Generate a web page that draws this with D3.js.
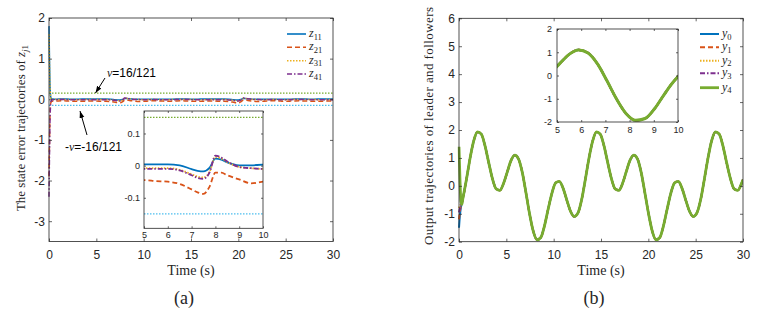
<!DOCTYPE html>
<html>
<head>
<meta charset="utf-8">
<script src="https://cdn.jsdelivr.net/npm/d3@7"></script>
<style>
body { margin: 0; background: #fff; }
svg { display: block; }
.tk text { font-family: "Liberation Sans", Arial, sans-serif; fill: #262626; }
.serif { font-family: "Liberation Serif", "Times New Roman", serif; fill: #262626; }
.sans { font-family: "Liberation Sans", Arial, sans-serif; fill: #000; }
</style>
</head>
<body>
<script>
// ---- panel (a): state errors z_j1 ----
var tA = [0, 0.05, 0.1, 0.15, 0.2, 0.3, 0.4,
    0.6, 0.8, 1, 1.5, 2, 2.5, 3, 3.5, 4, 4.5,
    5, 5.5, 6, 6.5, 7, 7.25, 7.5, 7.75, 8, 8.25, 8.5, 9, 9.5, 10,
    10.5, 11, 11.5, 12, 12.5, 13, 13.5, 14, 14.5, 15, 15.5, 16, 16.5, 17,
    17.5, 18, 18.5, 19, 19.5, 19.75, 20, 20.25, 20.5, 20.75, 21, 21.5, 22, 22.5,
    23, 23.5, 24, 24.5, 25, 25.5, 26, 26.5, 27, 27.5, 28, 28.5, 29, 29.5, 30];

var z11 = [1.8, 1.0, 0.4, 0.12, 0.04, 0.01, 0.004,
    0.002, 0.003, 0.004, 0.005, 0.004, 0.003, 0.003, 0.004, 0.004, 0.004,
    0.004, 0.004, 0.004, 0.001, -0.011, -0.016, -0.018, -0.007, 0.022, 0.019, 0.01, 0.001, 0.001, 0.003,
    0.003, 0.002, 0.0, -0.002, 0.0, 0.002, 0.004, 0.005, 0.004, 0.003, 0.003, 0.004, 0.004, 0.004,
    0.004, 0.004, 0.004, 0.001, -0.011, -0.016, -0.018, -0.007, 0.022, 0.019, 0.01, 0.001, 0.001, 0.003,
    0.003, 0.002, 0.0, -0.002, 0.0, 0.002, 0.004, 0.005, 0.004, 0.003, 0.003, 0.004, 0.004, 0.004, 0.004];

var z21 = [-1.9, -1.1, -0.45, -0.17, -0.08, -0.05, -0.046,
    -0.045, -0.042, -0.04, -0.038, -0.042, -0.047, -0.05, -0.048, -0.046, -0.045,
    -0.045, -0.048, -0.05, -0.057, -0.074, -0.083, -0.088, -0.066, -0.022, -0.022, -0.03, -0.043, -0.055, -0.05,
    -0.043, -0.038, -0.04, -0.045, -0.048, -0.045, -0.04, -0.038, -0.042, -0.047, -0.05, -0.048, -0.046, -0.045,
    -0.045, -0.048, -0.05, -0.057, -0.074, -0.083, -0.088, -0.066, -0.022, -0.022, -0.03, -0.043, -0.055, -0.05,
    -0.043, -0.038, -0.04, -0.045, -0.048, -0.045, -0.04, -0.038, -0.042, -0.047, -0.05, -0.048, -0.046, -0.045, -0.045];

var z31 = [1.6, 0.9, 0.35, 0.1, 0.02, -0.004, -0.008,
    -0.008, -0.007, -0.006, -0.006, -0.007, -0.008, -0.009, -0.009, -0.008, -0.008,
    -0.008, -0.008, -0.008, -0.013, -0.027, -0.034, -0.037, -0.02, 0.027, 0.022, 0.011, -0.004, -0.008, -0.01,
    -0.009, -0.007, -0.008, -0.01, -0.01, -0.008, -0.007, -0.006, -0.006, -0.007, -0.008, -0.009, -0.009, -0.008,
    -0.008, -0.008, -0.008, -0.013, -0.027, -0.034, -0.037, -0.02, 0.027, 0.022, 0.011, -0.004, -0.008, -0.01,
    -0.009, -0.007, -0.008, -0.01, -0.01, -0.008, -0.007, -0.006, -0.006, -0.007, -0.008, -0.009, -0.009, -0.008, -0.008];

var z41 = [-2.4, -1.4, -0.6, -0.2, -0.06, -0.018, -0.011,
    -0.01, -0.009, -0.008, -0.008, -0.009, -0.01, -0.011, -0.011, -0.01, -0.01,
    -0.01, -0.01, -0.01, -0.015, -0.03, -0.038, -0.041, -0.022, 0.031, 0.025, 0.013, -0.004, -0.008, -0.01,
    -0.01, -0.008, -0.009, -0.011, -0.012, -0.01, -0.008, -0.008, -0.008, -0.009, -0.01, -0.011, -0.011, -0.01,
    -0.01, -0.01, -0.01, -0.015, -0.03, -0.038, -0.041, -0.022, 0.031, 0.025, 0.013, -0.004, -0.008, -0.01,
    -0.01, -0.008, -0.009, -0.011, -0.012, -0.01, -0.008, -0.008, -0.008, -0.009, -0.01, -0.011, -0.011, -0.01, -0.01];

var bounds = [0.15, -0.15];
var zSubs = ["11", "21", "31", "41"];

// ---- panel (b): outputs of leader and followers ----
var tB = [0, 0.1, 0.2, 0.3,
    0.39, 0.79, 1.18, 1.57, 1.96, 2.36, 2.75, 3.14, 3.53, 3.93, 4.32, 4.71, 5.11, 5.50, 5.89, 6.28,
    6.68, 7.07, 7.46, 7.85, 8.25, 8.64, 9.03, 9.42, 9.82, 10.21, 10.60, 11.00, 11.39, 11.78, 12.17, 12.57,
    12.96, 13.35, 13.74, 14.14, 14.53, 14.92, 15.32, 15.71, 16.10, 16.49, 16.89, 17.28, 17.67, 18.06, 18.46, 18.85,
    19.24, 19.63, 20.03, 20.42, 20.81, 21.21, 21.60, 21.99, 22.38, 22.78, 23.17, 23.56, 23.95, 24.35, 24.74, 25.13,
    25.53, 25.92, 26.31, 26.70, 27.10, 27.49, 27.88, 28.27, 28.67, 29.06, 29.45, 29.85, 30];

// common trajectory after the transient (t >= 0.39)
var yTrack = [-0.49, 0.24, 1.01, 1.63, 1.93, 1.85, 1.43, 0.83, 0.26, -0.11, -0.16, 0.09, 0.51, 0.91, 1.10, 0.97,
    0.49, -0.24, -1.01, -1.63, -1.93, -1.85, -1.43, -0.83, -0.26, 0.11, 0.16, -0.09, -0.51, -0.91, -1.10, -0.97,
    -0.49, 0.24, 1.01, 1.63, 1.93, 1.85, 1.43, 0.83, 0.26, -0.11, -0.16, 0.09, 0.51, 0.91, 1.10, 0.97,
    0.49, -0.24, -1.01, -1.63, -1.93, -1.85, -1.43, -0.83, -0.26, 0.11, 0.16, -0.09, -0.51, -0.91, -1.10, -0.97,
    -0.49, 0.24, 1.01, 1.63, 1.93, 1.85, 1.43, 0.83, 0.26, -0.11, -0.16, 0.09, 0.22];

// first four samples (t = 0 .. 0.3) of each output
var y0Start = [-1.5, -1.05, -0.78, -0.62];
var y1Start = [-1.2, -0.9, -0.72, -0.62];
var y2Start = [-0.8, -0.72, -0.66, -0.62];
var y3Start = [-0.95, -0.8, -0.7, -0.62];
var y4Start = [1.4, 0.25, -0.55, -0.66];
var ySubs = ["0", "1", "2", "3", "4"];

var xTicks = [0, 5, 10, 15, 20, 25, 30];
var yTicksA = [-3, -2, -1, 0, 1, 2];
var yTicksB = [-2, -1, 0, 1, 2, 3, 4, 5, 6];
var insetXTicks = [5, 6, 7, 8, 9, 10];
var insetYTicksA = [-0.1, 0, 0.1];
var insetYTicksB = [-2, -1, 0, 1, 2];

// colours / dashes (matlab defaults)
var col = ["#0072BD", "#D95319", "#EDB120", "#7E2F8E", "#77AC30"];
var dash = [null, "5,3", "1.5,1.5", "5,2,1.5,2", null];
var boundCol = ["#77AC30", "#4DBEEE"];

var svg = d3.select("body").append("svg")
    .attr("width", 777)
    .attr("height", 315);
svg.append("rect").attr("width", 777).attr("height", 315).attr("fill", "#fff");
var defs = svg.append("defs");

defs.append("marker")
    .attr("id", "ah")
    .attr("viewBox", "0 0 10 10")
    .attr("refX", 10).attr("refY", 5)
    .attr("markerWidth", 7).attr("markerHeight", 7)
    .attr("orient", "auto")
    .append("path").attr("d", "M0,1.5 L10,5 L0,8.5 z").attr("fill", "#000");

var xA = d3.scaleLinear().domain([0, 30]).range([49, 333]),
    yA = d3.scaleLinear().domain([-3.5, 2]).range([241.5, 18]),
    xAi = d3.scaleLinear().domain([5, 10]).range([144, 263]),
    yAi = d3.scaleLinear().domain([-0.195, 0.17]).range([228.3, 111]),
    xB = d3.scaleLinear().domain([0, 30]).range([459, 743]),
    yB = d3.scaleLinear().domain([-2, 6]).range([241.7, 18.3]),
    xBi = d3.scaleLinear().domain([5, 10]).range([557, 678]),
    yBi = d3.scaleLinear().domain([-2, 2]).range([122, 29]);

// clip box; main panels keep a little room on the left so the t=0 spikes stay visible
function clip(id, x, y, padL) {
    defs.append("clipPath").attr("id", id).append("rect")
        .attr("x", x.range()[0] - padL).attr("y", y.range()[1])
        .attr("width", x.range()[1] - x.range()[0] + padL)
        .attr("height", y.range()[0] - y.range()[1]);
}
clip("cA", xA, yA, 1.5); clip("cAi", xAi, yAi, 0); clip("cB", xB, yB, 1.5); clip("cBi", xBi, yBi, 0);

function bg(g, x, y) {
    g.append("rect")
        .attr("x", x.range()[0]).attr("y", y.range()[1])
        .attr("width", x.range()[1] - x.range()[0])
        .attr("height", y.range()[0] - y.range()[1])
        .attr("fill", "#fff");
}

function axes(g, x, y, xt, yt, fs, tl, padX, padY) {
    var f = function(d) { return String(d); };
    var none = function() { return ""; };
    var xr = x.range(), yr = y.range();
    var a = g.append("g");
    a.append("g").attr("class", "tk").attr("transform", "translate(0," + yr[0] + ")")
        .call(d3.axisBottom(x).tickValues(xt).tickFormat(f).tickSize(-tl).tickPadding(padX));
    a.append("g").attr("class", "tk").attr("transform", "translate(0," + yr[1] + ")")
        .call(d3.axisTop(x).tickValues(xt).tickFormat(none).tickSize(-tl));
    a.append("g").attr("class", "tk").attr("transform", "translate(" + xr[0] + ",0)")
        .call(d3.axisLeft(y).tickValues(yt).tickFormat(f).tickSize(-tl).tickPadding(padY));
    a.append("g").attr("class", "tk").attr("transform", "translate(" + xr[1] + ",0)")
        .call(d3.axisRight(y).tickValues(yt).tickFormat(none).tickSize(-tl));
    a.selectAll(".tk").attr("font-size", fs);
    a.selectAll(".domain").remove();
    a.selectAll(".tk line").attr("stroke", "#262626").attr("stroke-width", 0.7);
    a.append("rect")
        .attr("x", xr[0]).attr("y", yr[1])
        .attr("width", xr[1] - xr[0]).attr("height", yr[0] - yr[1])
        .attr("fill", "none").attr("stroke", "#262626").attr("stroke-width", 0.8);
}

function series(g, t, vals, x, y, c, d, w, clipId) {
    var line = d3.line()
        .x(function(v, i) { return x(t[i]); })
        .y(function(v) { return y(v); })
        .curve(d3.curveMonotoneX);
    g.append("path")
        .attr("clip-path", "url(#" + clipId + ")")
        .attr("d", line(vals))
        .attr("fill", "none")
        .attr("stroke", c)
        .attr("stroke-width", w)
        .attr("stroke-dasharray", d);
}

function hline(g, v, x, y, c, w, clipId) {
    g.append("line")
        .attr("clip-path", "url(#" + clipId + ")")
        .attr("x1", x.range()[0]).attr("x2", x.range()[1])
        .attr("y1", y(v)).attr("y2", y(v))
        .attr("stroke", c).attr("stroke-width", w)
        .attr("stroke-dasharray", "1.5,1.5");
}

function legend(g, x0, y0s, subs, letter, widths) {
    subs.forEach(function(s, i) {
        g.append("line")
            .attr("x1", x0).attr("x2", x0 + 19)
            .attr("y1", y0s[i]).attr("y2", y0s[i])
            .attr("stroke", col[i]).attr("stroke-width", widths[i])
            .attr("stroke-dasharray", dash[i]);
        var tx = g.append("text").attr("class", "serif")
            .attr("x", x0 + 22).attr("y", y0s[i] + 3)
            .attr("font-size", 12);
        tx.append("tspan").attr("font-style", "italic").text(letter);
        tx.append("tspan").attr("font-size", 8.5).attr("dy", 2.5).text(s);
    });
}

// ================= panel (a) =================
var zs = [z11, z21, z31, z41];
var pa = svg.append("g");
bg(pa, xA, yA);
bounds.forEach(function(b, i) { hline(pa, b, xA, yA, boundCol[i], 1.3, "cA"); });
zs.forEach(function(z, i) { series(pa, tA, z, xA, yA, col[i], dash[i], 1.5, "cA"); });
axes(pa, xA, yA, xTicks, yTicksA, 12, 3, 9, 4);

var ylA = pa.append("text").attr("class", "serif")
    .attr("transform", "translate(25,128) rotate(-90)")
    .attr("text-anchor", "middle")
    .attr("font-size", 13);
ylA.append("tspan").text("The state error trajectories of ");
ylA.append("tspan").attr("font-style", "italic").text("z");
ylA.append("tspan").attr("font-size", 9).attr("dy", 3).attr("font-style", "italic").text("j");
ylA.append("tspan").attr("font-size", 9).text("1");

pa.append("text").attr("class", "serif")
    .attr("x", 191).attr("y", 275).attr("text-anchor", "middle")
    .attr("font-size", 14).text("Time (s)");
pa.append("text").attr("class", "serif")
    .attr("x", 184).attr("y", 304).attr("text-anchor", "middle")
    .attr("font-size", 18).attr("fill", "#000").text("(a)");

// annotations
var an1 = pa.append("text").attr("class", "sans").attr("x", 107).attr("y", 77).attr("font-size", 12);
an1.append("tspan").attr("class", "serif").attr("font-style", "italic").attr("fill", "#000").text("\u03bd");
an1.append("tspan").text("=16/121");
pa.append("line").attr("x1", 105).attr("y1", 78).attr("x2", 95.5).attr("y2", 93)
    .attr("stroke", "#000").attr("stroke-width", 1).attr("marker-end", "url(#ah)");
var an2 = pa.append("text").attr("class", "sans").attr("x", 65).attr("y", 151).attr("font-size", 12);
an2.append("tspan").text("-");
an2.append("tspan").attr("class", "serif").attr("font-style", "italic").attr("fill", "#000").text("\u03bd");
an2.append("tspan").text("=-16/121");
pa.append("line").attr("x1", 87).attr("y1", 135).attr("x2", 80).attr("y2", 111)
    .attr("stroke", "#000").attr("stroke-width", 1).attr("marker-end", "url(#ah)");

legend(pa, 287, [34, 47.3, 60.7, 74], zSubs, "z", [1.6, 1.6, 1.6, 1.6]);

// inset (a)
var ia = svg.append("g");
bg(ia, xAi, yAi);
bounds.forEach(function(b, i) { hline(ia, b, xAi, yAi, boundCol[i], 1.3, "cAi"); });
zs.forEach(function(z, i) { series(ia, tA, z, xAi, yAi, col[i], dash[i], 1.8, "cAi"); });
axes(ia, xAi, yAi, insetXTicks, insetYTicksA, 9, 2, 3, 4);

// ================= panel (b) =================
var ys = [y0Start, y1Start, y2Start, y3Start, y4Start].map(function(s) { return s.concat(yTrack); });
var pb = svg.append("g");
bg(pb, xB, yB);
ys.forEach(function(y, i) { series(pb, tB, y, xB, yB, col[i], dash[i], i == 4 ? 2.8 : 2, "cB"); });
axes(pb, xB, yB, xTicks, yTicksB, 12, 3, 9, 4);

pb.append("text").attr("class", "serif")
    .attr("transform", "translate(433,126) rotate(-90)")
    .attr("text-anchor", "middle")
    .attr("font-size", 13)
    .attr("textLength", 238).attr("lengthAdjust", "spacing")
    .text("Output trajectories of leader and followers");
pb.append("text").attr("class", "serif")
    .attr("x", 601).attr("y", 275).attr("text-anchor", "middle")
    .attr("font-size", 14).text("Time (s)");
pb.append("text").attr("class", "serif")
    .attr("x", 594).attr("y", 304).attr("text-anchor", "middle")
    .attr("font-size", 18).attr("fill", "#000").text("(b)");

// inset (b)
var ib = svg.append("g");
bg(ib, xBi, yBi);
ys.forEach(function(y, i) { series(ib, tB, y, xBi, yBi, col[i], dash[i], i == 4 ? 3 : 2.2, "cBi"); });
axes(ib, xBi, yBi, insetXTicks, insetYTicksB, 9, 2, 5, 5);

legend(pb, 700, [34, 47.3, 60.7, 73.3, 87.7], ySubs, "y", [2, 2, 2, 2, 2.8]);
</script>
</body>
</html>
